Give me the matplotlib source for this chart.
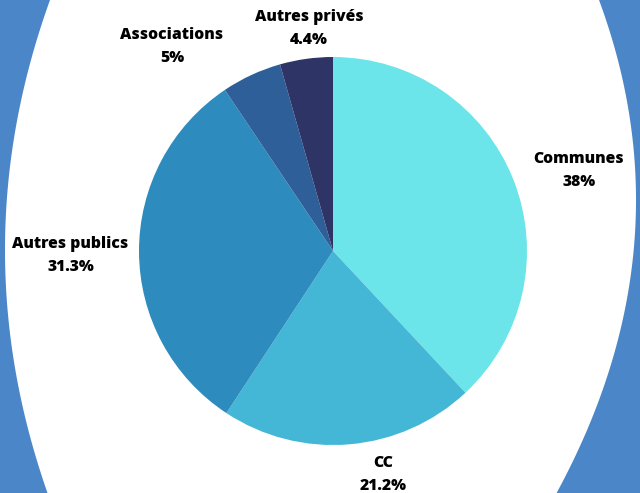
import numpy as np
import matplotlib.pyplot as plt
from matplotlib.path import Path
from matplotlib.patches import PathPatch

# data
categories = ["Communes", "CC", "Autres publics", "Associations", "Autres privés"]
shares = [38, 21.2, 31.3, 5, 4.4]
share_labels = ["38%", "21.2%", "31.3%", "5%", "4.4%"]

colors = ["#6be5e9", "#44b7d7", "#2d8bbd", "#2f5f98", "#2e3566"]
# label placement: (radius factor, angle offset in degrees)
label_layout = [(1.336, -2.9), (1.168, 7.9), (1.353, 0.3), (1.35, 13.1), (1.166, -1.8)]

W, H = 640, 493
fig = plt.figure(figsize=(W / 100, H / 100), dpi=100)
fig.patch.set_facecolor("#4a86c8")

# white blob behind the chart (figure pixel coords)
ys = np.linspace(0, H, 200)
left = 5 + 0.00072 * (ys - 250) ** 2
right = 636 - 0.000925 * (ys - 200) ** 2
xs = np.concatenate([right, left[::-1]])
yy = np.concatenate([ys, ys[::-1]])
verts = np.column_stack([xs / W, 1 - yy / H])
blob = PathPatch(Path(np.vstack([verts, verts[:1]]), closed=True),
                 transform=fig.transFigure, facecolor="white", edgecolor="none",
                 zorder=-10)
fig.add_artist(blob)

# pie axes: centre (333, 251), radius ~194 px
r_px = 194
cx, cy = 333, 251
ax = fig.add_axes([(cx - r_px) / W, (H - cy - r_px) / H, 2 * r_px / W, 2 * r_px / H])
ax.set_zorder(5)
wedges, _ = ax.pie(shares, colors=colors, startangle=90, counterclock=False,
                   radius=1, wedgeprops={"linewidth": 0})
ax.set_xlim(-1, 1)
ax.set_ylim(-1, 1)
ax.set_aspect("equal")
ax.axis("off")

for w, name, lab, (dist, off) in zip(wedges, categories, share_labels, label_layout):
    ang = np.deg2rad((w.theta1 + w.theta2) / 2 + off)
    ax.text(dist * np.cos(ang), dist * np.sin(ang) - 0.011, f"{name}\n{lab}",
            ha="center", va="center", fontsize=11.3, fontweight="heavy",
            family="Open Sans", color="black", linespacing=1.6, clip_on=False)

fig.savefig("out.png", dpi=100, facecolor=fig.get_facecolor())
